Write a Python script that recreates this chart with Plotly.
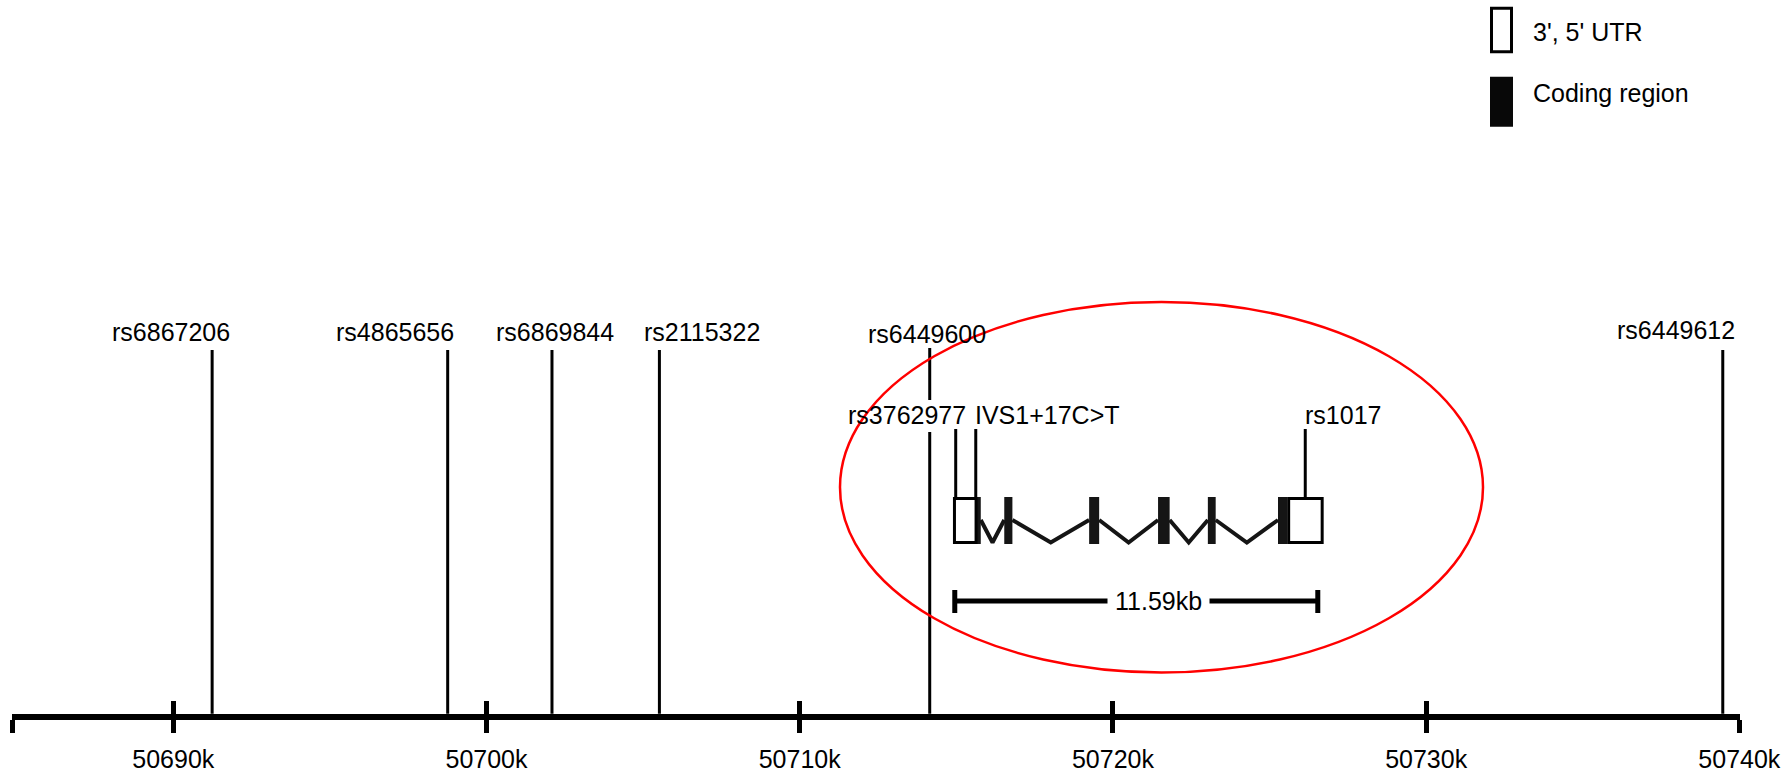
import plotly.graph_objects as go

# ---------------- data ----------------
# genomic coordinate ticks (kb)
tick_kb = [50690, 50700, 50710, 50720, 50730, 50740]
tick_labels = ["50690k", "50700k", "50710k", "50720k", "50730k", "50740k"]

# SNPs along the region (kb)
snp_names = ["rs6867206", "rs4865656", "rs6869844", "rs2115322", "rs6449600", "rs6449612"]
snp_kb = [50691.24, 50698.76, 50702.09, 50705.52, 50714.15, 50739.47]

# variants inside the gene (kb)
gene_snp_names = ["rs3762977", "IVS1+17C>T", "rs1017"]
gene_snp_kb = [50714.98, 50715.62, 50726.14]

# gene model (kb)
utr_start_kb = [50714.89, 50725.56]
utr_end_kb = [50715.65, 50726.70]
cds_start_kb = [50715.65, 50716.53, 50719.24, 50721.44, 50723.03, 50725.27]
cds_end_kb = [50715.78, 50716.79, 50719.56, 50721.81, 50723.28, 50725.56]

gene_length_kb = 11.59
scale_bar_start_kb = 50714.95

legend_labels = ["3', 5' UTR", "Coding region"]

# ---------------- layout constants ----------------
W, H = 1788, 775
ML, MR = 12, 48
PLOT_W = W - ML - MR
X_RANGE = [50684.85, 50740.02]
AXIS_START_KB = 50684.87
AXIS_Y = 716.7
PX_PER_KB = PLOT_W / (X_RANGE[1] - X_RANGE[0])
FONT = "Liberation Sans, Arial, Helvetica, sans-serif"
FS = 25
INK = "black"
EXON_INK = "#151515"

GENE_TOP, GENE_BOTTOM = 497, 544
GENE_MID = 520
INTRON_DIP = 542.5


def to_px(kb):
    return ML + (kb - X_RANGE[0]) * PX_PER_KB


def paper_x(px):
    return (px - ML) / PLOT_W


# label placement (pixel shifts relative to each marker line)
snp_label_shift = [-41.5, -52.6, 3.4, 42.8, -2.5, -47]
snp_label_y = [332, 332, 332, 332, 334, 330]
snp_line_top = 350
gene_label_shift = [-49, -3, 37.6]
gene_label_anchor = ["center", "left", "center"]
gene_label_y = 415
gene_line_top = 429
label_gap = (400, 432)
scale_text_shift = 22

fig = go.Figure()

# SNP marker lines down to the genomic axis
lx, ly = [], []
first_label_c = to_px(gene_snp_kb[0]) + gene_label_shift[0]
for kb in snp_kb:
    if abs(to_px(kb) - first_label_c) < 60:
        lx += [kb, kb, None, kb, kb, None]
        ly += [snp_line_top - 2, label_gap[0], None, label_gap[1], AXIS_Y - 3, None]
    else:
        lx += [kb, kb, None]
        ly += [snp_line_top, AXIS_Y - 3, None]
for kb in gene_snp_kb:
    lx += [kb, kb, None]
    ly += [gene_line_top, GENE_TOP, None]
fig.add_trace(go.Scatter(x=lx, y=ly, mode="lines", line=dict(color=INK, width=3),
                         hoverinfo="skip", showlegend=False))

# introns as zig-zag connectors between coding exons
ix, iy = [], []
for a, b in zip(cds_end_kb[:-1], cds_start_kb[1:]):
    ix += [a, (a + b) / 2, b, None]
    iy += [GENE_MID, INTRON_DIP, GENE_MID, None]
fig.add_trace(go.Scatter(x=ix, y=iy, mode="lines", line=dict(color=EXON_INK, width=4),
                         hoverinfo="skip", showlegend=False))

# gene length scale bar
sb0, sb1 = scale_bar_start_kb, scale_bar_start_kb + gene_length_kb
fig.add_trace(go.Scatter(x=[sb0, sb1, None, sb0, sb0, None, sb1, sb1],
                         y=[601, 601, None, 590, 613, None, 590, 613],
                         mode="lines", line=dict(color=INK, width=5),
                         hoverinfo="skip", showlegend=False))

# invisible trace so the overlay axis (upward tick halves) is drawn
fig.add_trace(go.Scatter(x=[X_RANGE[0]], y=[-100], xaxis="x2", mode="markers",
                         marker=dict(opacity=0), hoverinfo="skip", showlegend=False))

shapes = []
# coding exons
for a, b in zip(cds_start_kb, cds_end_kb):
    shapes.append(dict(type="rect", xref="x", yref="y", x0=a, x1=b, y0=GENE_TOP, y1=GENE_BOTTOM,
                       fillcolor=EXON_INK, line=dict(width=0), layer="above"))
# UTR boxes
for a, b in zip(utr_start_kb, utr_end_kb):
    shapes.append(dict(type="rect", xref="x", yref="y", x0=a + 0.05, x1=b - 0.02,
                       y0=GENE_TOP + 1.5, y1=GENE_BOTTOM - 1.5,
                       fillcolor="white", line=dict(color=INK, width=3), layer="above"))
# highlight ellipse round the gene
shapes.append(dict(type="circle", xref="x", yref="y",
                   x0=X_RANGE[0] + (840 - ML) / PX_PER_KB, x1=X_RANGE[0] + (1483 - ML) / PX_PER_KB,
                   y0=302, y1=672.5, line=dict(color="#ff0000", width=2.5), layer="above"))
# legend swatches
shapes.append(dict(type="rect", xref="paper", yref="y", x0=paper_x(1491.5), x1=paper_x(1511.5),
                   y0=8.3, y1=51.7, fillcolor="white", line=dict(color=INK, width=3)))
shapes.append(dict(type="rect", xref="paper", yref="y", x0=paper_x(1490), x1=paper_x(1513),
                   y0=76.7, y1=126.7, fillcolor="#080808", line=dict(width=0)))

annotations = []
tf = dict(family=FONT, size=FS, color=INK)
for name, kb, dx, y in zip(snp_names, snp_kb, snp_label_shift, snp_label_y):
    annotations.append(dict(x=kb, y=y, xref="x", yref="y", text=name, showarrow=False,
                            xshift=dx, xanchor="center", yanchor="middle", font=tf))
for name, kb, dx, anc in zip(gene_snp_names, gene_snp_kb, gene_label_shift, gene_label_anchor):
    annotations.append(dict(x=kb, y=gene_label_y, xref="x", yref="y", text=name, showarrow=False,
                            xshift=dx, xanchor=anc, yanchor="middle", font=tf))
annotations.append(dict(x=(sb0 + sb1) / 2, y=601, xref="x", yref="y", xshift=scale_text_shift,
                        text=f"{gene_length_kb:.2f}kb", showarrow=False, bgcolor="white",
                        borderpad=7, xanchor="center", yanchor="middle", font=tf))
for text, y in zip(legend_labels, [32, 93]):
    annotations.append(dict(x=paper_x(1531), y=y, xref="paper", yref="y", text=text,
                            showarrow=False, xanchor="left", yanchor="middle", font=tf))

axis_vals = [AXIS_START_KB] + tick_kb
axis_text = [""] + tick_labels
axis_pos = 1 - AXIS_Y / H

fig.update_layout(
    width=W, height=H,
    margin=dict(l=ML, r=MR, t=0, b=0, pad=0),
    paper_bgcolor="white", plot_bgcolor="white",
    showlegend=False,
    shapes=shapes, annotations=annotations,
    font=dict(family=FONT, size=FS, color=INK),
    xaxis=dict(range=X_RANGE, domain=[0, 1], anchor="free", position=axis_pos,
               showline=True, linewidth=6, linecolor=INK,
               ticks="outside", ticklen=13, tickwidth=5, tickcolor=INK,
               tickmode="array", tickvals=axis_vals, ticktext=axis_text,
               ticklabelstandoff=5,
               tickfont=dict(family=FONT, size=FS, color=INK),
               showgrid=False, zeroline=False, fixedrange=True),
    xaxis2=dict(range=X_RANGE, overlaying="x", anchor="free", position=axis_pos, side="bottom",
                showline=False, ticks="inside", ticklen=16, tickwidth=5, tickcolor=INK,
                tickmode="array", tickvals=axis_vals, showticklabels=False,
                showgrid=False, zeroline=False, fixedrange=True),
    yaxis=dict(range=[H, 0], domain=[0, 1], visible=False, showgrid=False,
               zeroline=False, fixedrange=True),
)

fig.write_html("out.html")
